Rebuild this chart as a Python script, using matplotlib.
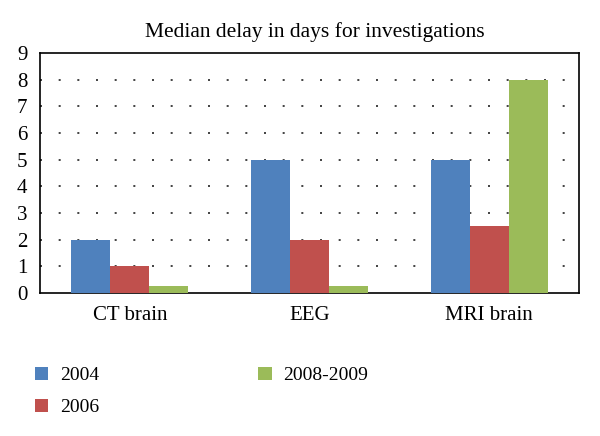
import matplotlib
matplotlib.use("Agg")
import matplotlib.pyplot as plt
import numpy as np

categories = ["CT brain", "EEG", "MRI brain"]
series_names = ["2004", "2006", "2008-2009"]
values_2004 = [2, 5, 5]
values_2006 = [1, 2, 2.5]
values_2008_2009 = [0.25, 0.25, 8]
colors = ["#4F81BD", "#C0504D", "#9BBB59"]
title = "Median delay in days for investigations"

plt.rcParams['font.family'] = ['Liberation Serif', 'DejaVu Serif']

fig = plt.figure(figsize=(6, 4.36), dpi=100)
ax = fig.add_axes([40/600, 1-293/436, 539/600, 240/436])

x = np.arange(len(categories))
w = 0.217
allvals = [values_2004, values_2006, values_2008_2009]
for i, (vals, name, c) in enumerate(zip(allvals, series_names, colors)):
    ax.bar(x + (i-1)*w, vals, width=w, color=c, label=name, zorder=3)

ax.set_xlim(-0.5, 2.5)
ax.set_ylim(0, 9)
ax.set_yticks(range(0, 10))
ax.set_xticks(x)
ax.set_xticklabels(categories)
ax.tick_params(axis='both', length=0, labelsize=15, colors='black')
ax.tick_params(axis='y', pad=9)
ax.tick_params(axis='x', pad=9)
for v in range(1, 9):
    ax.axhline(v, color='#222222', linestyle=(0, (1.2, 10)), linewidth=1.2, zorder=1)
for s in ax.spines.values():
    s.set_linewidth(1.2)
    s.set_color('black')

fig.text(315/600, 1-32/436, title, ha='center', va='center', fontsize=15.5)

handles, labels = ax.get_legend_handles_labels()
fig.legend(handles, labels, ncol=2, loc='upper left', bbox_to_anchor=(17/600, 1-349/436),
           frameon=False, fontsize=14, handlelength=0.7, handleheight=0.7,
           columnspacing=8.2, labelspacing=0.75, handletextpad=0.6)

fig.savefig("out.png", dpi=100)
